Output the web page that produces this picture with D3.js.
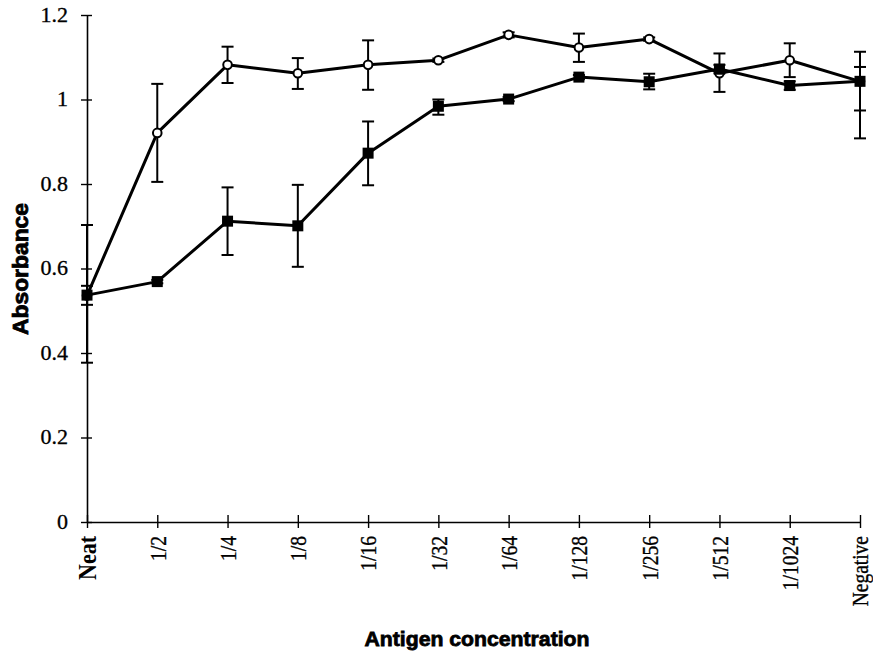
<!DOCTYPE html>
<html>
<head>
<meta charset="utf-8">
<script src="https://cdn.jsdelivr.net/npm/d3@7"></script>
<style>
  html, body { margin: 0; padding: 0; background: #fff; }
  svg { display: block; }
</style>
</head>
<body>
<svg id="chart" width="873" height="656"></svg>
<script>
// ---- Data ----
const categories = ["Neat","1/2","1/4","1/8","1/16","1/32","1/64","1/128","1/256","1/512","1/1024","Negative"];

// Open circles series
const openValues  = [0.536, 0.921, 1.082, 1.062, 1.082, 1.093, 1.153, 1.123, 1.143, 1.062, 1.093, 1.043];
const openErrUp   = [0.023, 0.116, 0.043, 0.036, 0.058, 0.004, 0.006, 0.033, 0.004, 0.047, 0.040, 0.034];
const openErrDown = [0.022, 0.116, 0.043, 0.037, 0.059, 0.004, 0.006, 0.034, 0.004, 0.044, 0.040, 0.069];

// Filled squares series
const filledValues  = [0.537, 0.569, 0.712, 0.701, 0.873, 0.984, 1.001, 1.053, 1.042, 1.072, 1.033, 1.043];
const filledErrUp   = [0.166, 0.004, 0.080, 0.097, 0.075, 0.016, 0.005, 0.005, 0.019, 0.010, 0.010, 0.070];
const filledErrDown = [0.160, 0.004, 0.080, 0.097, 0.076, 0.020, 0.005, 0.005, 0.018, 0.010, 0.010, 0.135];

const yTickValues = [0, 0.2, 0.4, 0.6, 0.8, 1, 1.2];
const yTickLabels = ["0", "0.2", "0.4", "0.6", "0.8", "1", "1.2"];

const xTitle = "Antigen concentration";
const yTitle = "Absorbance";

// ---- Layout ----
const svg = d3.select("#chart");
const mLeft = 87, mRight = 860, mTop = 15, mBottom = 522;

const x = d3.scalePoint().domain(categories).range([mLeft, mRight]);
const y = d3.scaleLinear().domain([0, 1.2]).range([mBottom, mTop]);

const serif = "'Liberation Serif', 'Times New Roman', serif";
const sans = "'Liberation Sans', Arial, sans-serif";

// Y axis
const yAxis = d3.axisLeft(y)
  .tickValues(yTickValues)
  .tickFormat((d, i) => yTickLabels[i])
  .tickSize(6)
  .tickSizeOuter(0)
  .tickPadding(12);
const gy = svg.append("g").attr("transform", `translate(${mLeft},0)`).call(yAxis);
gy.select(".domain").attr("stroke", "#000").attr("stroke-width", 1.6);
gy.selectAll(".tick line").attr("x1", 5).attr("stroke", "#000").attr("stroke-width", 1.4);
gy.selectAll(".tick text")
  .attr("font-family", serif).attr("font-size", 20).attr("fill", "#000")
  .attr("stroke", "#000").attr("stroke-width", 0.3);
gy.selectAll(".tick text").each(function() {
  const t = d3.select(this);
  const xPos = +t.attr("x");
  t.attr("x", (xPos - 1) / 1.1).attr("transform", "scale(1.1,1)");
});

// X axis
const xAxis = d3.axisBottom(x).tickSize(6).tickSizeOuter(0).tickPadding(0);
const gx = svg.append("g").attr("transform", `translate(0,${mBottom})`).call(xAxis);
gx.select(".domain").attr("stroke", "#000").attr("stroke-width", 1.6);
gx.selectAll(".tick line").attr("y1", -7).attr("stroke", "#000").attr("stroke-width", 1.4);
gx.selectAll(".tick text")
  .attr("font-family", serif).attr("fill", "#000")
  .attr("font-size", d => d === "Neat" ? 22 : 19.5)
  .attr("font-weight", d => d === "Neat" ? "bold" : "normal")
  .attr("stroke", "#000").attr("stroke-width", d => d === "Neat" ? 0 : 0.3)
  .attr("text-anchor", "end")
  .attr("transform", "rotate(-90) scale(1,1.15)")
  .attr("x", -14).attr("y", 0).attr("dy", "0.35em");

// Titles
svg.append("text")
  .attr("transform", `translate(28,269) rotate(-90)`)
  .attr("text-anchor", "middle")
  .attr("font-family", sans).attr("font-weight", "bold").attr("font-size", 22)
  .attr("fill", "#000").attr("stroke", "#000").attr("stroke-width", 0.8)
  .attr("textLength", 132).attr("lengthAdjust", "spacingAndGlyphs")
  .text(yTitle);

svg.append("text")
  .attr("x", 477).attr("y", 646)
  .attr("text-anchor", "middle")
  .attr("font-family", sans).attr("font-weight", "bold").attr("font-size", 21)
  .attr("fill", "#000").attr("stroke", "#000").attr("stroke-width", 0.8)
  .attr("textLength", 225).attr("lengthAdjust", "spacingAndGlyphs")
  .text(xTitle);

// Series drawing
function drawSeries(values, up, down, kind) {
  const g = svg.append("g");
  const pts = categories.map((c, i) => ({ c, v: values[i], u: up[i], d: down[i] }));
  const eb = g.append("g").attr("stroke", "#000").attr("stroke-width", 2);
  pts.forEach(p => {
    const cx = x(p.c);
    const yHi = y(p.v + p.u), yLo = y(p.v - p.d);
    eb.append("line").attr("x1", cx).attr("x2", cx).attr("y1", yHi).attr("y2", yLo);
    eb.append("line").attr("x1", cx - 6).attr("x2", cx + 6).attr("y1", yHi).attr("y2", yHi);
    eb.append("line").attr("x1", cx - 6).attr("x2", cx + 6).attr("y1", yLo).attr("y2", yLo);
  });
  const line = d3.line().x(p => x(p.c)).y(p => y(p.v));
  g.append("path").datum(pts).attr("d", line)
    .attr("fill", "none").attr("stroke", "#000").attr("stroke-width", 3)
    .attr("stroke-linejoin", "round");
  if (kind === "circle") {
    g.selectAll("circle").data(pts).join("circle")
      .attr("cx", p => x(p.c)).attr("cy", p => y(p.v)).attr("r", 4.3)
      .attr("fill", "#fff").attr("stroke", "#000").attr("stroke-width", 2);
  } else {
    g.selectAll("rect").data(pts).join("rect")
      .attr("x", p => x(p.c) - 5.5).attr("y", p => y(p.v) - 5.5)
      .attr("width", 11).attr("height", 11)
      .attr("fill", "#000");
  }
}

drawSeries(openValues, openErrUp, openErrDown, "circle");
drawSeries(filledValues, filledErrUp, filledErrDown, "square");
</script>
</body>
</html>
